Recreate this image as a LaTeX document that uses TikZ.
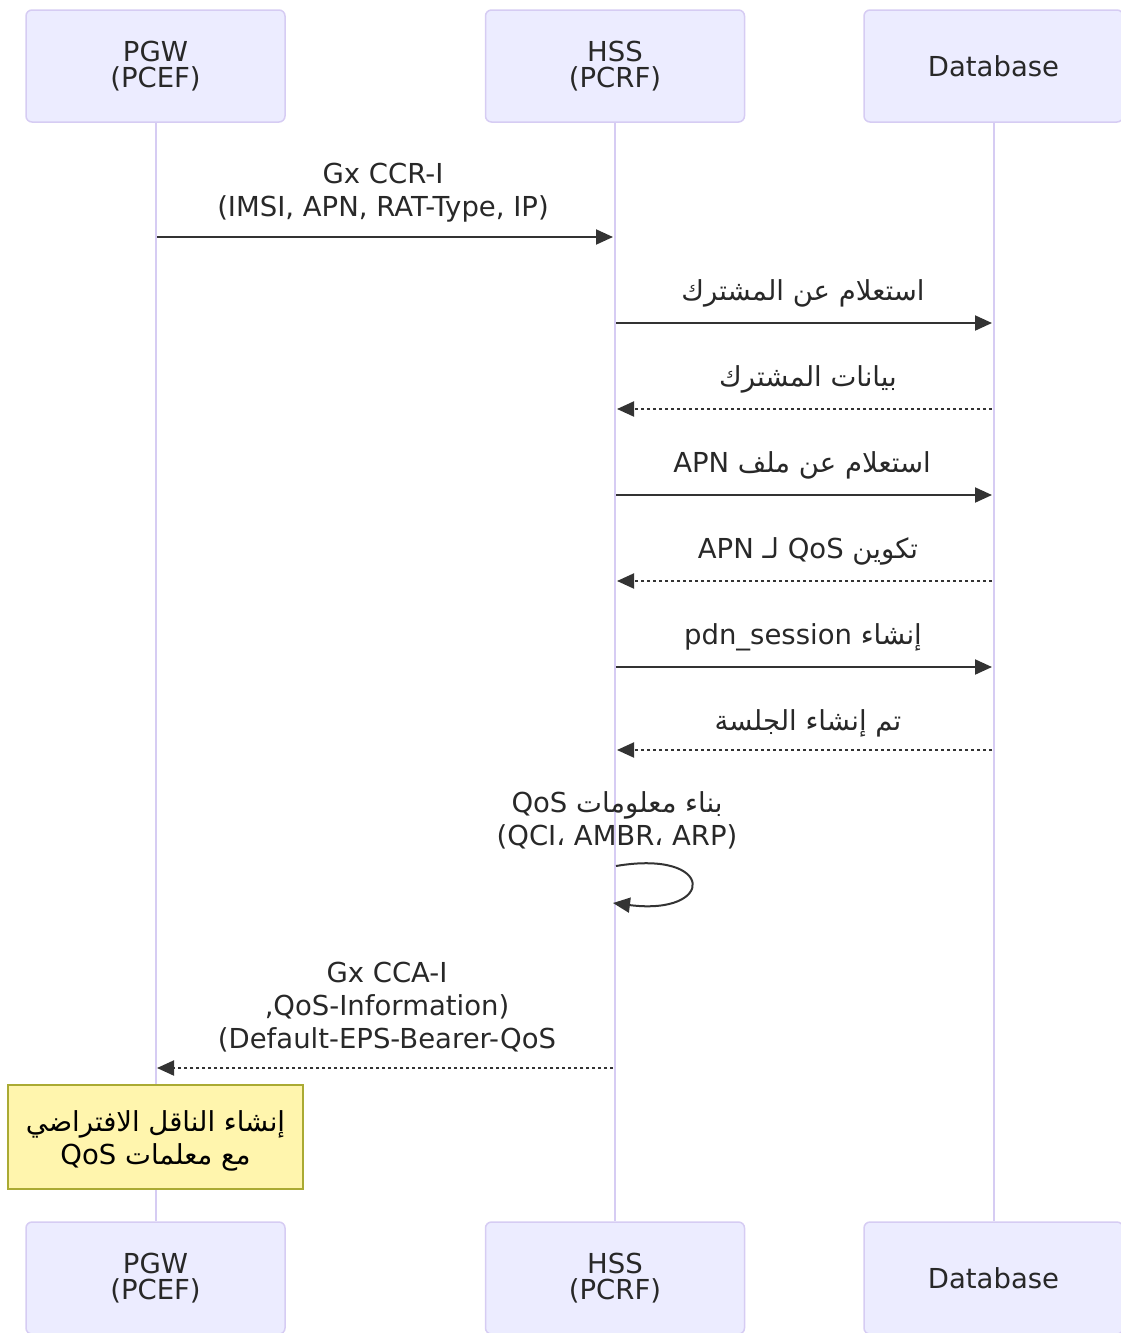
\documentclass[tikz,border=0pt]{standalone}
\usepackage{fontspec}
\setmainfont{DejaVu Sans}
\newfontfamily\arabicfont[Script=Arabic]{DejaVu Sans}
\TeXXeTstate=1
\usetikzlibrary{arrows.meta}
\definecolor{actfill}{RGB}{236,236,255}
\definecolor{actline}{RGB}{214,204,243}
\definecolor{lifeline}{RGB}{214,204,243}
\definecolor{txt}{RGB}{40,40,40}
\definecolor{arr}{RGB}{51,51,51}
\definecolor{notefill}{RGB}{255,245,173}
\definecolor{noteline}{RGB}{170,170,51}
\begin{document}
\begin{tikzpicture}[x=1pt,y=-1pt,
  actor/.style={draw=actline, fill=actfill, rounded corners=6pt, minimum width=259pt, minimum height=112pt, inner sep=0pt, align=center, font=\fontsize{27.5pt}{26pt}\selectfont, text=txt, line width=1.5pt},
  msglbl/.style={align=center, font=\fontsize{27.5pt}{33pt}\selectfont, text=txt, inner sep=0pt},
  msg/.style={draw=arr, line width=2pt, -{Triangle[length=17pt,width=15pt]}},
  reply/.style={msg, dash pattern=on 3pt off 3pt},
  life/.style={draw=lifeline, line width=2pt},
  notebox/.style={draw=noteline, fill=notefill, line width=1.5pt, minimum width=295pt, minimum height=104pt, inner sep=0pt, align=center, font=\fontsize{27.5pt}{33pt}\selectfont, text=black}
]
\useasboundingbox (0,0) rectangle (1121,1333);
\clip (0,0) rectangle (1121,1333);
% actors
\node[actor] (pgwT) at (155.5,66) {PGW\\(PCEF)};
\node[actor] (hssT) at (615,66) {HSS\\(PCRF)};
\node[actor] (dbT) at (993.5,66) {Database};
\node[actor] (pgwB) at (155.5,1278) {PGW\\(PCEF)};
\node[actor] (hssB) at (615,1278) {HSS\\(PCRF)};
\node[actor] (dbB) at (993.5,1278) {Database};
% re-centre actor text slightly lower
% lifelines
\draw[life] (pgwT.south) -- (pgwB.north);
\draw[life] (hssT.south) -- (hssB.north);
\draw[life] (dbT.south) -- (dbB.north);
% message coordinates
\coordinate (a1) at (157,237);  \coordinate (b1) at (613,237);
\coordinate (a2) at (616,323);  \coordinate (b2) at (992,323);
\coordinate (a3) at (992,409);  \coordinate (b3) at (617,409);
\coordinate (a4) at (616,495);  \coordinate (b4) at (992,495);
\coordinate (a5) at (992,581);  \coordinate (b5) at (617,581);
\coordinate (a6) at (616,667);  \coordinate (b6) at (992,667);
\coordinate (a7) at (992,750);  \coordinate (b7) at (617,750);
\coordinate (a8) at (616,866);  \coordinate (b8) at (613,903);
\coordinate (a9) at (613,1068); \coordinate (b9) at (157,1068);
% labels
\node[msglbl] (l1) at (383,192.5) {Gx CCR-I\\(IMSI, APN, RAT-Type, IP)};
\node[msglbl] (l2) at (803,293) {\arabicfont\beginR استعلام عن المشترك\endR};
\node[msglbl] (l3) at (808,379) {\arabicfont\beginR بيانات المشترك\endR};
\node[msglbl] (l4) at (802,465) {\arabicfont\beginR استعلام عن ملف \beginL APN\endL\endR};
\node[msglbl] (l5) at (808,551) {\arabicfont\beginR تكوين \beginL QoS\endL{} لـ \beginL APN\endL\endR};
\node[msglbl] (l6) at (803,637) {\arabicfont\beginR إنشاء \beginL pdn\_session\endL\endR};
\node[msglbl] (l7) at (808,723) {\arabicfont\beginR تم إنشاء الجلسة\endR};
\node[msglbl] (l8) at (617,820.5) {{\arabicfont\beginR بناء معلومات \beginL QoS\endL\endR}\\(QCI{\arabicfont ،} AMBR{\arabicfont ،} ARP)};
\node[msglbl] (l9) at (387,1007) {Gx CCA-I\\,QoS-Information)\\(Default-EPS-Bearer-QoS};
% arrows
\draw[msg] (a1) -- (b1);
\draw[msg] (a2) -- (b2);
\draw[reply] (a3) -- (b3);
\draw[msg] (a4) -- (b4);
\draw[reply] (a5) -- (b5);
\draw[msg] (a6) -- (b6);
\draw[reply] (a7) -- (b7);
\draw[msg] (a8) .. controls (716,849) and (716,916) .. (b8);
\draw[reply] (a9) -- (b9);
% note
\node[notebox] (note) at (155.5,1137) {};
\node[msglbl, text=black] (notetext) at (155.5,1141) {\arabicfont\beginR إنشاء الناقل الافتراضي\endR\\\arabicfont\beginR مع معلمات \beginL QoS\endL\endR};
\end{tikzpicture}
\end{document}
